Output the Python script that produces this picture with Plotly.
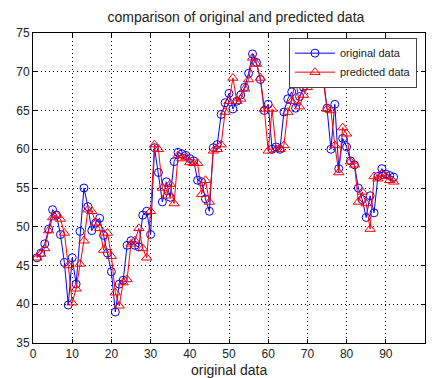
import plotly.graph_objects as go

original = [46.0, 46.6, 47.8, 49.7, 52.2, 51.5, 49.0, 45.4, 39.9, 46.0,
            42.6, 49.4, 55.0, 52.6, 49.5, 50.5, 51.1, 48.9, 46.6, 44.2,
            39.0, 42.6, 43.1, 47.6, 48.2, 47.6, 47.4, 51.5, 52.0, 49.0,
            60.2, 57.0, 53.2, 55.8, 53.8, 58.4, 59.6, 59.4, 59.2, 58.8,
            58.5, 56.0, 55.8, 53.6, 52.0, 60.2, 60.6, 64.5, 66.0, 67.2,
            65.2, 66.2, 67.0, 68.0, 69.8, 72.3, 71.2, 69.0, 65.0, 65.8,
            60.0, 60.3, 60.0, 64.8, 66.5, 67.4, 65.3, 66.8, 68.0, 68.5,
            70.0, 70.5, 70.0, 69.5, 65.3, 60.0, 65.8, 57.5, 61.4, 60.3,
            58.5, 58.0, 55.0, 53.5, 51.2, 54.0, 51.8, 56.5, 57.5, 56.8,
            56.6, 56.4]

predicted = [46.0, 46.5, 47.2, 49.5, 51.2, 51.5, 51.0, 49.2, 45.0, 40.2,
             42.0, 45.2, 48.2, 52.2, 52.0, 50.5, 49.8, 47.0, 49.2, 46.2,
             41.5, 39.8, 42.8, 43.2, 47.8, 48.2, 49.8, 47.2, 46.0, 52.0,
             60.6, 60.0, 55.0, 54.0, 55.5, 53.0, 59.2, 58.8, 59.0, 58.3,
             58.2, 58.2, 54.2, 56.0, 53.2, 59.8, 60.0, 60.6, 64.8, 66.2,
             69.2, 66.2, 66.5, 67.8, 69.0, 71.8, 71.0, 69.2, 65.2, 59.8,
             65.2, 60.0, 60.0, 60.5, 64.8, 66.2, 69.2, 65.5, 67.0, 68.0,
             70.5, 70.0, 70.0, 69.0, 65.2, 65.0, 60.5, 57.0, 62.8, 62.0,
             58.4, 58.0, 53.2, 54.5, 53.0, 49.7, 56.5, 56.2, 56.8, 56.5,
             56.0, 55.8]

x = list(range(1, len(original) + 1))

x_ticks = [0, 10, 20, 30, 40, 50, 60, 70, 80, 90, 100]
y_ticks = [35, 40, 45, 50, 55, 60, 65, 70, 75]

FONT = "Liberation Sans, Arial"

fig = go.Figure()
fig.add_trace(go.Scatter(
    x=x, y=original, mode="lines+markers", name="original data",
    line=dict(color="#0000ff", width=1),
    marker=dict(symbol="circle-open", size=8, color="#0000ff", line=dict(width=1)),
))
fig.add_trace(go.Scatter(
    x=x, y=predicted, mode="lines+markers", name="predicted data",
    line=dict(color="#ff0000", width=1),
    marker=dict(symbol="triangle-up-open", size=9, color="#ff0000", line=dict(width=1)),
))

axis_common = dict(
    showline=True, linecolor="black", linewidth=1, mirror="ticks",
    ticks="inside", ticklen=4, tickcolor="black",
    showgrid=True, gridcolor="black", gridwidth=1, griddash="1px,3px",
    zeroline=False, tickfont=dict(family=FONT, size=12, color="#222"),
)

fig.update_layout(
    width=426, height=370,
    margin=dict(l=21, r=8, t=25, b=35),
    paper_bgcolor="white", plot_bgcolor="white",
    title=dict(text="comparison of original and predicted data",
               x=0.535, xanchor="center", y=0.976, yanchor="middle",
               font=dict(family=FONT, size=14, color="#222")),
    xaxis=dict(range=[0, 100], tickvals=x_ticks, **axis_common),
    yaxis=dict(range=[35, 75], tickvals=y_ticks, **axis_common),
    legend=dict(x=0.653, y=0.985, xanchor="left", yanchor="top",
                bgcolor="white", bordercolor="#444", borderwidth=1,
                font=dict(family=FONT, size=11, color="#222"),
                tracegroupgap=0, itemwidth=40),
    showlegend=True,
    annotations=[dict(text="original data", xref="paper", yref="paper",
                      x=0.5, y=-0.087, xanchor="center", yanchor="middle",
                      showarrow=False, font=dict(family=FONT, size=14, color="#222"))],
)

fig.write_html("out.html")
